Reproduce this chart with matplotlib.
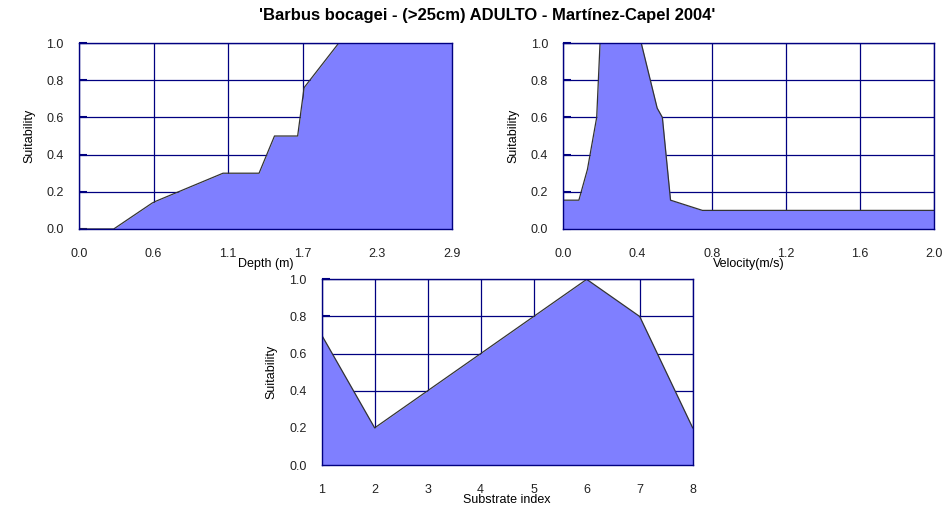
import matplotlib
matplotlib.use('Agg')
import matplotlib.pyplot as plt

plt.rcParams['font.family'] = ['Liberation Sans', 'DejaVu Sans']

# habitat suitability curves
depth = [0.0, 0.27, 0.57, 0.60, 1.12, 1.40, 1.52, 1.70, 1.75, 2.02, 2.9]
depth_suit = [0.0, 0.0, 0.14, 0.15, 0.30, 0.30, 0.50, 0.50, 0.76, 1.0, 1.0]

velocity = [0.0, 0.084, 0.13, 0.18, 0.198, 0.42, 0.506, 0.534, 0.578, 0.75, 2.0]
velocity_suit = [0.155, 0.155, 0.32, 0.60, 1.0, 1.0, 0.65, 0.60, 0.155, 0.10, 0.10]

substrate = [1, 2, 3, 4, 5, 6, 7, 8]
substrate_suit = [0.7, 0.2, 0.4, 0.6, 0.8, 1.0, 0.8, 0.2]

depth_ticks = [0.0, 0.58, 1.16, 1.74, 2.32, 2.9]
depth_labels = ['0.0', '0.6', '1.1', '1.7', '2.3', '2.9']
velocity_ticks = [0.0, 0.4, 0.8, 1.2, 1.6, 2.0]
velocity_labels = ['0.0', '0.4', '0.8', '1.2', '1.6', '2.0']
y_ticks = [0.0, 0.2, 0.4, 0.6, 0.8, 1.0]

NAVY = '#000080'
FILL = '#7f7fff'

fig = plt.figure(figsize=(9.48, 5.09), dpi=100)
fig.suptitle("'Barbus bocagei - (>25cm) ADULTO - Martínez-Capel 2004'",
             x=0.514, y=0.985, fontsize=12, fontweight='bold')


def suit_panel(rect, x, y, xticks, xlabels, xlabel):
    ax = fig.add_axes(rect)
    ax.fill_between(x, 0, y, color=FILL, zorder=2, linewidth=0)
    ax.plot(x, y, color='#333333', linewidth=0.9, zorder=3)
    ax.set_xlim(xticks[0], xticks[-1])
    ax.set_ylim(0, 1)
    ax.set_xticks(xticks)
    ax.set_xticklabels(xlabels)
    ax.set_yticks(y_ticks)
    ax.set_yticklabels(['%.1f' % v for v in y_ticks])
    ax.grid(True, color=NAVY, linewidth=0.9, zorder=1)
    ax.set_axisbelow(True)
    for s in ax.spines.values():
        s.set_color(NAVY)
        s.set_linewidth(1.0)
        s.set_zorder(4)
    ax.tick_params(axis='x', length=0, pad=13.5, labelsize=9, labelcolor='#222222')
    ax.tick_params(axis='y', direction='in', length=6, width=1.5, color=NAVY,
                   pad=11, labelsize=9, labelcolor='#222222')
    ax.set_xlabel(xlabel, fontsize=9, labelpad=-1)
    ax.set_ylabel('Suitability', fontsize=9, labelpad=8)
    return ax


suit_panel([0.0833, 0.5501, 0.3935, 0.3654], depth, depth_suit,
           depth_ticks, depth_labels, 'Depth (m)')
suit_panel([0.5942, 0.5501, 0.3914, 0.3654], velocity, velocity_suit,
           velocity_ticks, velocity_labels, 'Velocity(m/s)')
suit_panel([0.3393, 0.0864, 0.3914, 0.3648], substrate, substrate_suit,
           substrate, [str(v) for v in substrate], 'Substrate index')

fig.savefig('out.png', dpi=100)
